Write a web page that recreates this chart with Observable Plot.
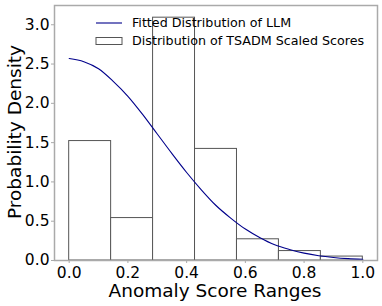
<!DOCTYPE html>
<html>
<head>
<meta charset="utf-8">
<script src="https://cdn.jsdelivr.net/npm/d3@7"></script>
<script src="https://cdn.jsdelivr.net/npm/@observablehq/plot@0.6"></script>
<style>
  html, body { margin: 0; padding: 0; background: #fff; }
  svg { display: block; }
</style>
</head>
<body>
<div id="chart"></div>
<script>
// Histogram bins (7 equal bins over [0,1]) and their densities
const binStarts = [0, 1/7, 2/7, 3/7, 4/7, 5/7, 6/7];
const binEnds   = [1/7, 2/7, 3/7, 4/7, 5/7, 6/7, 1];
const binDensity = [1.52, 0.54, 3.09, 1.42, 0.27, 0.12, 0.05];

// Fitted curve
const curveX = [0, 0.05, 0.10, 0.15, 0.20, 0.25, 0.30, 0.35, 0.40, 0.45, 0.50,
                0.55, 0.60, 0.65, 0.70, 0.75, 0.80, 0.85, 0.90, 0.95, 1.00];
const curveY = [2.57, 2.53, 2.44, 2.28, 2.09, 1.86, 1.61, 1.36, 1.12, 0.90, 0.70,
                0.54, 0.40, 0.29, 0.20, 0.14, 0.094, 0.061, 0.039, 0.024, 0.015];

const xTicks = [0, 0.2, 0.4, 0.6, 0.8, 1.0];
const yTicks = [0, 0.5, 1.0, 1.5, 2.0, 2.5, 3.0];

const legendLabels = ["Fitted Distribution of LLM", "Distribution of TSADM Scaled Scores"];
const xLabel = "Anomaly Score Ranges";
const yLabel = "Probability Density";

const bins = binStarts.map((s, i) => ({x1: s, x2: binEnds[i], y: binDensity[i]}));
const curve = curveX.map((x, i) => ({x, y: curveY[i]}));

const W = 382, H = 306;
const mL = 54, mR = 5, mT = 5, mB = 46;

const plot = Plot.plot({
  width: W, height: H,
  marginLeft: mL, marginRight: mR, marginTop: mT, marginBottom: mB,
  style: {fontFamily: "DejaVu Sans", fontSize: "15.5px", color: "#000", background: "#fff"},
  x: {domain: [-0.05, 1.05], ticks: xTicks, tickFormat: d3.format(".1f"), label: null,
      tickSize: 3, tickPadding: 3},
  y: {domain: [0, 3.245], ticks: yTicks, tickFormat: d3.format(".1f"), label: null,
      tickSize: 3, tickPadding: 2},
  marks: [
    Plot.rectY(bins, {x1: "x1", x2: "x2", y1: 0, y2: "y", fill: "#fff", stroke: "#555", strokeWidth: 1}),
    Plot.line(curve, {x: "x", y: "y", stroke: "darkblue", strokeWidth: 1.1, curve: "monotone-x"}),
    Plot.frame({stroke: "#aaa", strokeWidth: 1.5}),
    Plot.axisX({ticks: xTicks, tickFormat: d3.format(".1f"), tickSize: 3, tickPadding: 3, stroke: "#aaa", fontSize: 15.5}),
    Plot.axisY({ticks: yTicks, tickFormat: d3.format(".1f"), tickSize: 3, tickPadding: 2, stroke: "#aaa", fontSize: 15.5})
  ]
});

document.getElementById("chart").appendChild(plot);

const svg = d3.select(plot);
// axis labels
svg.append("text")
  .attr("x", 215).attr("y", 297)
  .attr("text-anchor", "middle")
  .attr("font-family", "DejaVu Sans").attr("font-size", 18.5).attr("fill", "#000")
  .text(xLabel);
svg.append("text")
  .attr("transform", `translate(${21},${132}) rotate(-90)`)
  .attr("text-anchor", "middle")
  .attr("font-family", "DejaVu Sans").attr("font-size", 18.5).attr("fill", "#000")
  .text(yLabel);

// legend
const lg = svg.append("g").attr("font-family", "DejaVu Sans").attr("font-size", 12.7)
  .attr("fill", "#000").attr("text-anchor", "start");
lg.append("line").attr("x1", 96).attr("x2", 122).attr("y1", 23).attr("y2", 23)
  .attr("stroke", "darkblue").attr("stroke-width", 1.1);
lg.append("text").attr("x", 132).attr("y", 23).attr("dy", "0.35em").attr("text-anchor", "start").text(legendLabels[0]);
lg.append("rect").attr("x", 96).attr("y", 37.5).attr("width", 26).attr("height", 7)
  .attr("fill", "#fff").attr("stroke", "#555").attr("stroke-width", 1);
lg.append("text").attr("x", 132).attr("y", 41).attr("dy", "0.35em").attr("text-anchor", "start").text(legendLabels[1]);
</script>
</body>
</html>
